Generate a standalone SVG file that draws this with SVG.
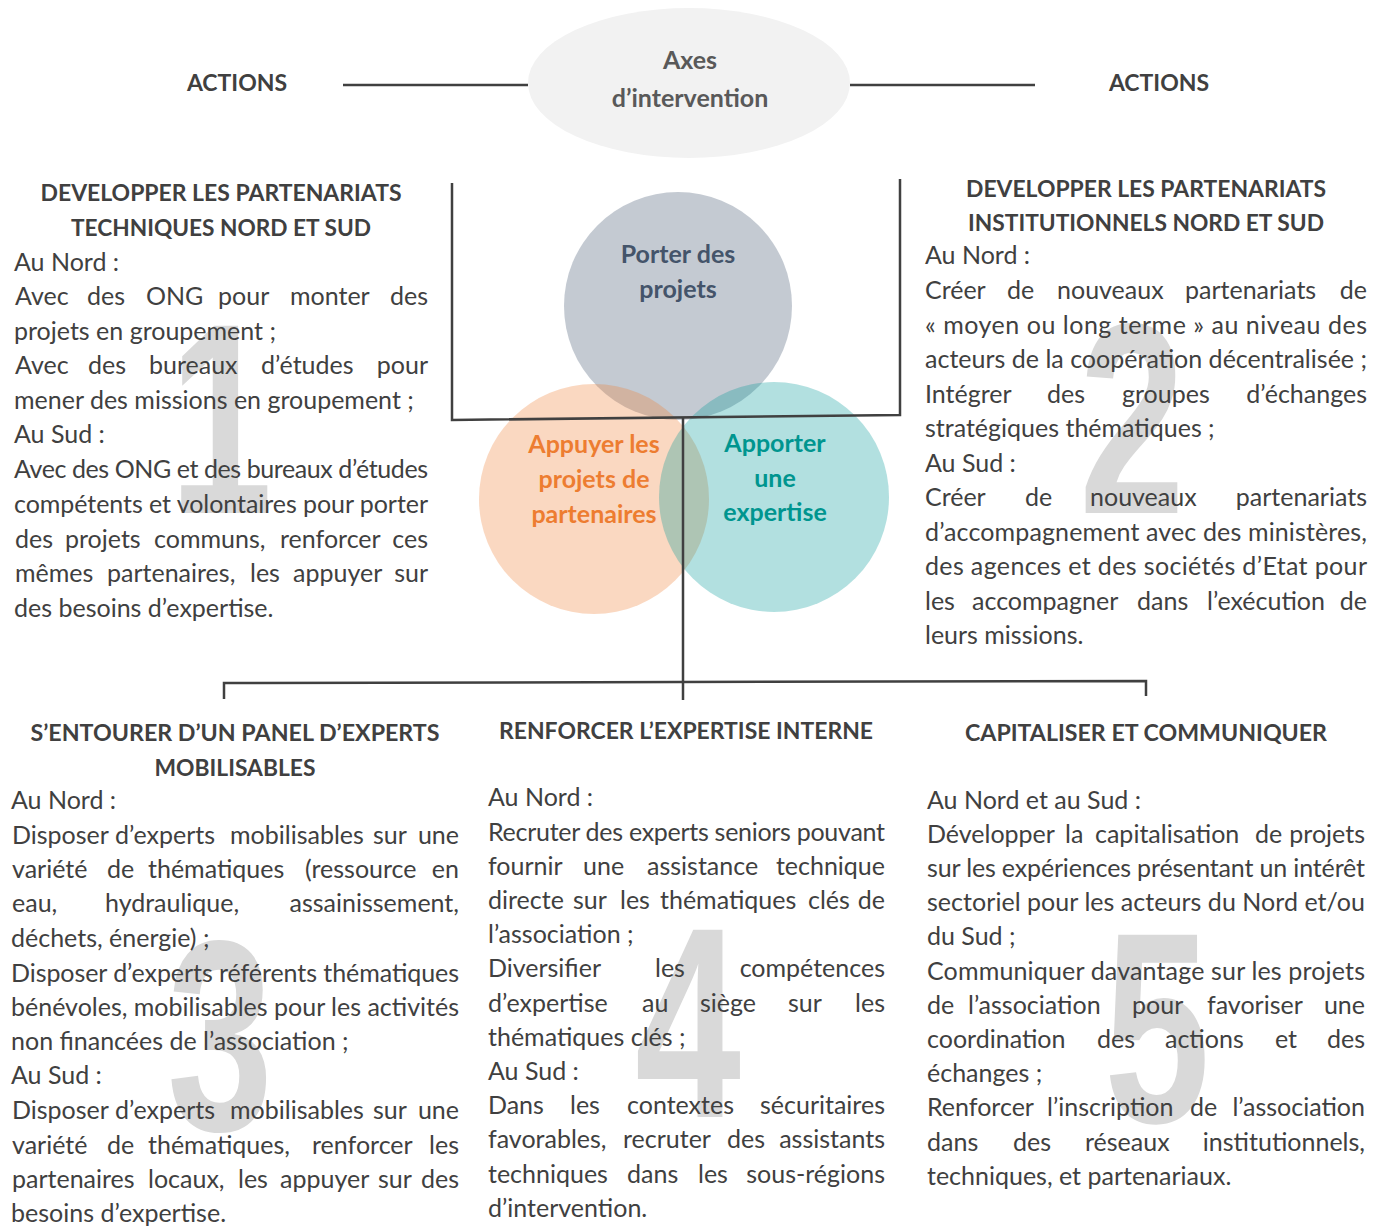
<svg xmlns="http://www.w3.org/2000/svg" width="1384" height="1227" viewBox="0 0 1384 1227">
<style>
.b{font-family:Lato,"Open Sans","Liberation Sans",sans-serif;font-size:25px;fill:#404040}
.h{font-family:Lato,"Open Sans","Liberation Sans",sans-serif;font-size:23px;font-weight:700;fill:#404040;text-anchor:middle}
.c{font-family:Lato,"Open Sans","Liberation Sans",sans-serif;font-size:25px;font-weight:700;text-anchor:middle}
.n{font-family:"Liberation Sans",Arial,sans-serif;font-size:272px;font-weight:700;fill:#d9d9d9;text-anchor:middle}
.ln{stroke:#404040;stroke-width:2.5;fill:none}
</style>
<rect width="1384" height="1227" fill="#ffffff"/>

<g id="numbers">
<text class="n" transform="translate(221,513) scale(0.68,1)">1</text>
<text class="n" transform="translate(1132,513) scale(0.7,1)">2</text>
<text class="n" transform="translate(220,1130) scale(0.7,1)">3</text>
<text class="n" transform="translate(688,1117) scale(0.7,1)">4</text>
<text class="n" transform="translate(1157,1122) scale(0.7,1)">5</text>
</g>

<g id="axes">
<ellipse cx="689" cy="83" rx="161" ry="75" fill="#f2f2f2"/>
<text class="c" x="690" y="69" fill="#595959" font-size="27">Axes</text>
<text class="c" x="690" y="107" fill="#595959" font-size="27">d’intervention</text>
</g>

<g id="actions-left"><text class="h" x="237" y="91">ACTIONS</text></g>
<g id="actions-right"><text class="h" x="1159" y="91">ACTIONS</text></g>

<g id="circle-porter">
<circle cx="678" cy="306" r="114" fill="#8a95a5" fill-opacity="0.5"/>
<text class="c" x="678" y="263" fill="#44546a">Porter des</text>
<text class="c" x="678" y="298" fill="#44546a">projets</text>
</g>
<g id="circle-appuyer">
<circle cx="594" cy="499" r="115" fill="#ed7d31" fill-opacity="0.3"/>
<text class="c" x="594" y="453" fill="#ed7d31">Appuyer les</text>
<text class="c" x="594" y="488" fill="#ed7d31">projets de</text>
<text class="c" x="594" y="523" fill="#ed7d31">partenaires</text>
</g>
<g id="circle-apporter">
<circle cx="774" cy="497" r="115" fill="#009999" fill-opacity="0.3"/>
<text class="c" x="775" y="452" fill="#00958f">Apporter</text>
<text class="c" x="775" y="487" fill="#00958f">une</text>
<text class="c" x="775" y="521" fill="#00958f">expertise</text>
</g>

<g id="connectors">
<line class="ln" x1="343" y1="85" x2="528" y2="85"/>
<line class="ln" x1="850" y1="85" x2="1035" y2="85"/>
<polyline class="ln" points="452,183 452,420 900,415 900,179"/>
<line class="ln" x1="683" y1="417" x2="683" y2="700"/>
<polyline class="ln" points="224,699 224,683 1146,681 1146,696"/>
</g>

<g id="box1">
<text class="h" x="221" y="201" textLength="361" lengthAdjust="spacingAndGlyphs">DEVELOPPER LES PARTENARIATS</text>
<text class="h" x="221" y="236" textLength="300" lengthAdjust="spacingAndGlyphs">TECHNIQUES NORD ET SUD</text>
<text class="b" x="14" y="271">Au Nord :</text>
<text class="b" y="305"><tspan x="15">Avec</tspan><tspan x="87">des</tspan><tspan x="146">ONG</tspan><tspan x="218">pour</tspan><tspan x="290">monter</tspan><tspan x="428" text-anchor="end">des</tspan></text>
<text class="b" x="14" y="340">projets en groupement ;</text>
<text class="b" y="374"><tspan x="15">Avec</tspan><tspan x="88">des</tspan><tspan x="149">bureaux</tspan><tspan x="261">d’études</tspan><tspan x="428" text-anchor="end">pour</tspan></text>
<text class="b" x="14" y="409">mener des missions en groupement ;</text>
<text class="b" x="14" y="443">Au Sud :</text>
<text class="b" x="14" y="478" textLength="414" lengthAdjust="spacing">Avec des ONG et des bureaux d’études</text>
<text class="b" x="14" y="513" textLength="414" lengthAdjust="spacing">compétents et volontaires pour porter</text>
<text class="b" y="548"><tspan x="15">des</tspan><tspan x="65">projets</tspan><tspan x="154">communs,</tspan><tspan x="280">renforcer</tspan><tspan x="428" text-anchor="end">ces</tspan></text>
<text class="b" y="582"><tspan x="15">mêmes</tspan><tspan x="107">partenaires,</tspan><tspan x="250">les</tspan><tspan x="293">appuyer</tspan><tspan x="428" text-anchor="end">sur</tspan></text>
<text class="b" x="14" y="617">des besoins d’expertise.</text>
</g>

<g id="box2">
<text class="h" x="1146" y="197" textLength="360" lengthAdjust="spacingAndGlyphs">DEVELOPPER LES PARTENARIATS</text>
<text class="h" x="1146" y="231" textLength="356" lengthAdjust="spacingAndGlyphs">INSTITUTIONNELS NORD ET SUD</text>
<text class="b" x="925" y="264">Au Nord :</text>
<text class="b" y="299"><tspan x="925">Créer</tspan><tspan x="1007">de</tspan><tspan x="1057">nouveaux</tspan><tspan x="1185">partenariats</tspan><tspan x="1367" text-anchor="end">de</tspan></text>
<text class="b" x="925" y="334" textLength="442" lengthAdjust="spacing">« moyen ou long terme » au niveau des</text>
<text class="b" x="925" y="368" textLength="442" lengthAdjust="spacing">acteurs de la coopération décentralisée ;</text>
<text class="b" y="403"><tspan x="925">Intégrer</tspan><tspan x="1047">des</tspan><tspan x="1122">groupes</tspan><tspan x="1367" text-anchor="end">d’échanges</tspan></text>
<text class="b" x="925" y="437">stratégiques thématiques ;</text>
<text class="b" x="925" y="472">Au Sud :</text>
<text class="b" y="506"><tspan x="925">Créer</tspan><tspan x="1025">de</tspan><tspan x="1090">nouveaux</tspan><tspan x="1367" text-anchor="end">partenariats</tspan></text>
<text class="b" x="925" y="541" textLength="442" lengthAdjust="spacing">d’accompagnement avec des ministères,</text>
<text class="b" x="925" y="575" textLength="442" lengthAdjust="spacing">des agences et des sociétés d’Etat pour</text>
<text class="b" y="610"><tspan x="925">les</tspan><tspan x="972">accompagner</tspan><tspan x="1137">dans</tspan><tspan x="1207">l’exécution</tspan><tspan x="1367" text-anchor="end">de</tspan></text>
<text class="b" x="925" y="644">leurs missions.</text>
</g>

<g id="box3">
<text class="h" x="235" y="741" textLength="409" lengthAdjust="spacingAndGlyphs">S’ENTOURER D’UN PANEL D’EXPERTS</text>
<text class="h" x="235" y="776" textLength="161" lengthAdjust="spacingAndGlyphs">MOBILISABLES</text>
<text class="b" x="11" y="809">Au Nord :</text>
<text class="b" y="844"><tspan x="12">Disposer</tspan><tspan x="115">d’experts</tspan><tspan x="230">mobilisables</tspan><tspan x="373">sur</tspan><tspan x="459" text-anchor="end">une</tspan></text>
<text class="b" y="878"><tspan x="12">variété</tspan><tspan x="107">de</tspan><tspan x="148">thématiques</tspan><tspan x="305">(ressource</tspan><tspan x="459" text-anchor="end">en</tspan></text>
<text class="b" y="912"><tspan x="12">eau,</tspan><tspan x="105">hydraulique,</tspan><tspan x="459" text-anchor="end">assainissement,</tspan></text>
<text class="b" x="11" y="947">déchets, énergie) ;</text>
<text class="b" x="11" y="982" textLength="448" lengthAdjust="spacing">Disposer d’experts référents thématiques</text>
<text class="b" x="11" y="1016" textLength="448" lengthAdjust="spacing">bénévoles, mobilisables pour les activités</text>
<text class="b" x="11" y="1050">non financées de l’association ;</text>
<text class="b" x="11" y="1084">Au Sud :</text>
<text class="b" y="1119"><tspan x="12">Disposer</tspan><tspan x="115">d’experts</tspan><tspan x="230">mobilisables</tspan><tspan x="373">sur</tspan><tspan x="459" text-anchor="end">une</tspan></text>
<text class="b" y="1154"><tspan x="12">variété</tspan><tspan x="107">de</tspan><tspan x="148">thématiques,</tspan><tspan x="312">renforcer</tspan><tspan x="459" text-anchor="end">les</tspan></text>
<text class="b" y="1188"><tspan x="12">partenaires</tspan><tspan x="148">locaux,</tspan><tspan x="238">les</tspan><tspan x="280">appuyer</tspan><tspan x="378">sur</tspan><tspan x="459" text-anchor="end">des</tspan></text>
<text class="b" x="11" y="1222">besoins d’expertise.</text>
</g>

<g id="box4">
<text class="h" x="686" y="739" textLength="374" lengthAdjust="spacingAndGlyphs">RENFORCER L’EXPERTISE INTERNE</text>
<text class="b" x="488" y="806">Au Nord :</text>
<text class="b" x="488" y="841" textLength="397" lengthAdjust="spacing">Recruter des experts seniors pouvant</text>
<text class="b" y="875"><tspan x="488">fournir</tspan><tspan x="583">une</tspan><tspan x="647">assistance</tspan><tspan x="885" text-anchor="end">technique</tspan></text>
<text class="b" y="909"><tspan x="488">directe</tspan><tspan x="573">sur</tspan><tspan x="620">les</tspan><tspan x="660">thématiques</tspan><tspan x="808">clés</tspan><tspan x="885" text-anchor="end">de</tspan></text>
<text class="b" x="488" y="943">l’association ;</text>
<text class="b" y="977"><tspan x="488">Diversifier</tspan><tspan x="655">les</tspan><tspan x="885" text-anchor="end">compétences</tspan></text>
<text class="b" y="1012"><tspan x="488">d’expertise</tspan><tspan x="642">au</tspan><tspan x="700">siège</tspan><tspan x="788">sur</tspan><tspan x="885" text-anchor="end">les</tspan></text>
<text class="b" x="488" y="1046">thématiques clés ;</text>
<text class="b" x="488" y="1080">Au Sud :</text>
<text class="b" y="1114"><tspan x="488">Dans</tspan><tspan x="570">les</tspan><tspan x="627">contextes</tspan><tspan x="885" text-anchor="end">sécuritaires</tspan></text>
<text class="b" y="1148"><tspan x="488">favorables,</tspan><tspan x="623">recruter</tspan><tspan x="727">des</tspan><tspan x="885" text-anchor="end">assistants</tspan></text>
<text class="b" y="1183"><tspan x="488">techniques</tspan><tspan x="627">dans</tspan><tspan x="698">les</tspan><tspan x="885" text-anchor="end">sous-régions</tspan></text>
<text class="b" x="488" y="1217">d’intervention.</text>
</g>

<g id="box5">
<text class="h" x="1146" y="741" textLength="362" lengthAdjust="spacingAndGlyphs">CAPITALISER ET COMMUNIQUER</text>
<text class="b" x="927" y="809">Au Nord et au Sud :</text>
<text class="b" y="843"><tspan x="927">Développer</tspan><tspan x="1065">la</tspan><tspan x="1095">capitalisation</tspan><tspan x="1255">de</tspan><tspan x="1365" text-anchor="end">projets</tspan></text>
<text class="b" x="927" y="877" textLength="438" lengthAdjust="spacing">sur les expériences présentant un intérêt</text>
<text class="b" x="927" y="911" textLength="438" lengthAdjust="spacing">sectoriel pour les acteurs du Nord et/ou</text>
<text class="b" x="927" y="945">du Sud ;</text>
<text class="b" x="927" y="980" textLength="438" lengthAdjust="spacing">Communiquer davantage sur les projets</text>
<text class="b" y="1014"><tspan x="927">de</tspan><tspan x="968">l’association</tspan><tspan x="1132">pour</tspan><tspan x="1207">favoriser</tspan><tspan x="1365" text-anchor="end">une</tspan></text>
<text class="b" y="1048"><tspan x="927">coordination</tspan><tspan x="1097">des</tspan><tspan x="1165">actions</tspan><tspan x="1275">et</tspan><tspan x="1365" text-anchor="end">des</tspan></text>
<text class="b" x="927" y="1082">échanges ;</text>
<text class="b" y="1116"><tspan x="927">Renforcer</tspan><tspan x="1047">l’inscription</tspan><tspan x="1190">de</tspan><tspan x="1365" text-anchor="end">l’association</tspan></text>
<text class="b" y="1151"><tspan x="927">dans</tspan><tspan x="1013">des</tspan><tspan x="1085">réseaux</tspan><tspan x="1365" text-anchor="end">institutionnels,</tspan></text>
<text class="b" x="927" y="1185">techniques, et partenariaux.</text>
</g>
</svg>
